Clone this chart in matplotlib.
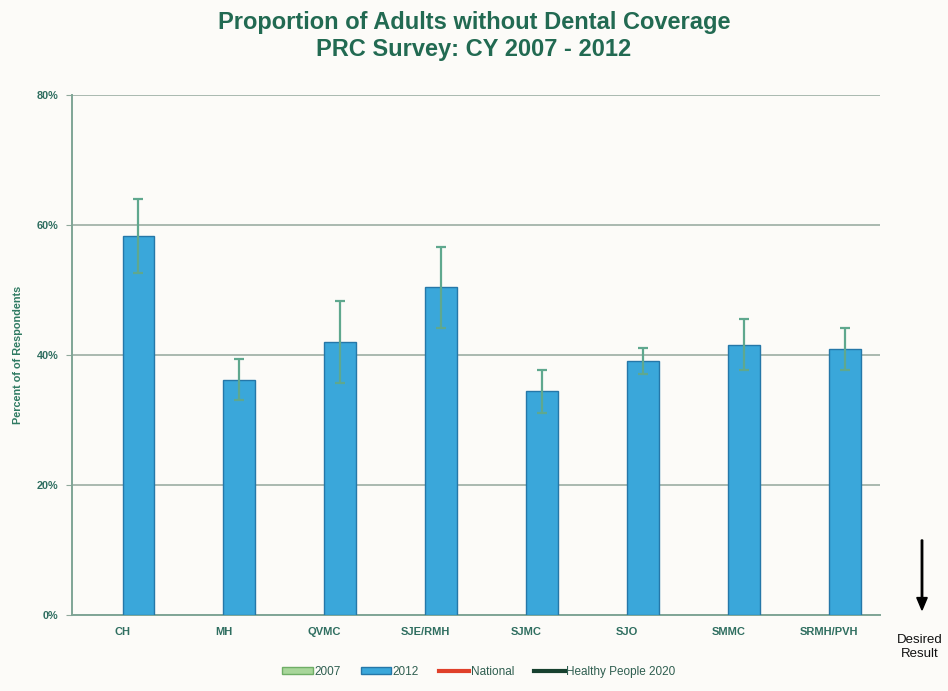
import matplotlib
matplotlib.use("Agg")
import matplotlib.pyplot as plt
import matplotlib.patches as mpatches
import matplotlib.lines as mlines
import numpy as np

categories = ["CH", "MH", "QVMC", "SJE/RMH", "SJMC", "SJO", "SMMC", "SRMH/PVH"]
values_2012 = [58.3, 36.2, 42.0, 50.4, 34.4, 39.1, 41.6, 40.9]
errors_2012 = [5.7, 3.2, 6.3, 6.2, 3.3, 2.0, 3.9, 3.2]
yticks = [0, 20, 40, 60, 80]
ytick_labels = ["0%", "20%", "40%", "60%", "80%"]

plt.rcParams['font.family'] = ['Liberation Sans', 'DejaVu Sans']

fig = plt.figure(figsize=(9.48, 6.91), dpi=100)
fig.patch.set_facecolor('#fcfbf8')
ax = fig.add_axes([0.076, 0.110, 0.852, 0.7525])
ax.set_facecolor('#fcfbf8')

x = np.arange(len(categories))
bw = 0.31
ax.bar(x + bw / 2, values_2012, width=bw, color='#3aa7da', edgecolor='#2577a8',
       linewidth=1.0, zorder=3)
ax.errorbar(x + bw / 2, values_2012, yerr=errors_2012, fmt='none',
            ecolor='#5fa88e', elinewidth=1.6, capsize=3.5, capthick=1.6, zorder=4)

ax.set_xlim(-0.5, len(categories) - 0.5)
ax.set_ylim(0, 80)
ax.set_yticks(yticks)
ax.set_yticklabels(ytick_labels)
ax.set_xticks(x)
ax.set_xticklabels(categories)
ax.tick_params(axis='x', length=0, pad=9, labelsize=8, labelcolor='#2f6e60')
ax.tick_params(axis='y', length=4, color='#8fa89c', pad=6, labelsize=7.8, labelcolor='#2f6e60')
for lab in ax.get_xticklabels() + ax.get_yticklabels():
    lab.set_fontweight('bold')

ax.grid(axis='y', color='#a9b9b0', linewidth=1.4, zorder=0)
for s in ['top', 'right']:
    ax.spines[s].set_visible(False)
ax.spines['left'].set_color('#7fa596')
ax.spines['left'].set_linewidth(1.4)
ax.spines['bottom'].set_color('#7fa596')
ax.spines['bottom'].set_linewidth(1.4)

ax.set_ylabel("Percent of of Respondents", fontsize=7.8, color='#2f7a62',
              fontweight='bold', labelpad=10)

fig.text(0.5, 0.984, "Proportion of Adults without Dental Coverage\nPRC Survey: CY 2007 - 2012",
         ha='center', va='top', fontsize=17, fontweight='bold', color='#226a52',
         linespacing=1.2)

# Desired result arrow
fig.patches.append(mpatches.FancyArrow(922 / 948, 1 - 540 / 691, 0, -(70 / 691),
                                       width=0.0015, head_width=0.011, head_length=0.018,
                                       length_includes_head=True, color='black',
                                       transform=fig.transFigure, figure=fig))
fig.text(920 / 948, 1 - 647 / 691, "Desired\nResult", ha='center', va='center',
         fontsize=9.5, color='#111111', linespacing=1.2)

handles = [
    mpatches.Patch(facecolor='#a8d69a', edgecolor='#6fae66', label='2007'),
    mpatches.Patch(facecolor='#3aa7da', edgecolor='#2577a8', label='2012'),
    mlines.Line2D([], [], color='#e0402a', linewidth=3, label='National'),
    mlines.Line2D([], [], color='#17412f', linewidth=3, label='Healthy People 2020'),
]
leg = fig.legend(handles=handles, loc='center', bbox_to_anchor=(0.505, 1 - 672 / 691),
                 ncol=4, frameon=False, fontsize=8.5, handlelength=2.6, handleheight=0.5,
                 handletextpad=0.1, columnspacing=1.7)
for t in leg.get_texts():
    t.set_color('#2f5e50')

fig.savefig("out.png", dpi=100, facecolor=fig.get_facecolor())
